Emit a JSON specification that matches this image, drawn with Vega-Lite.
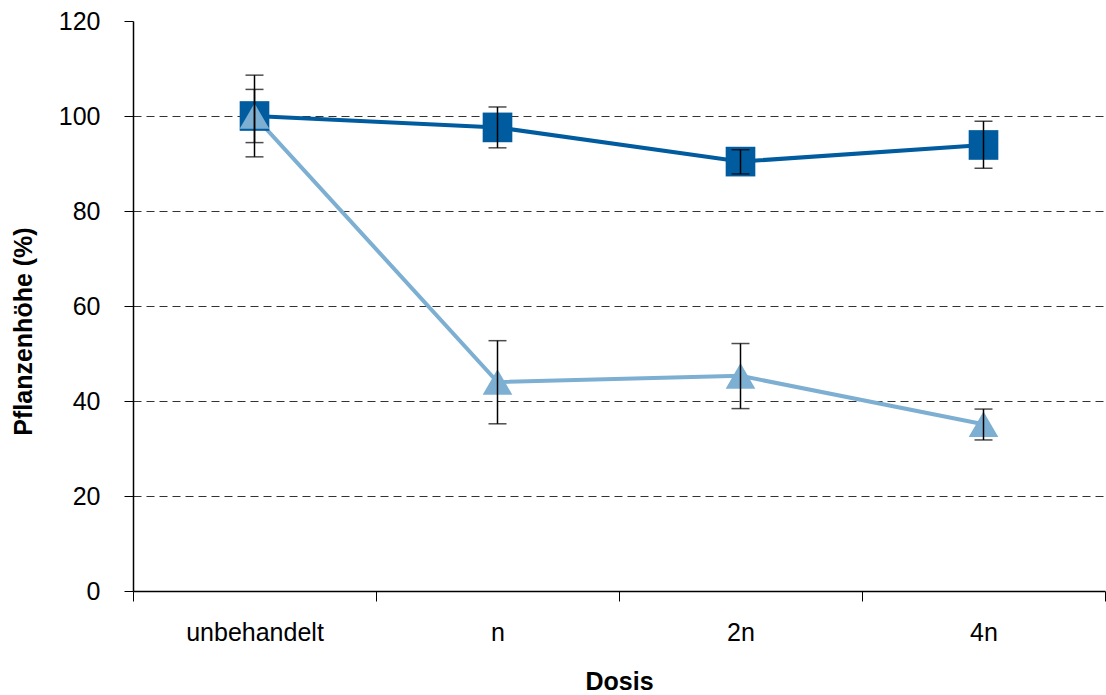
{
  "$schema": "https://vega.github.io/schema/vega-lite/v6.json",
  "width": 972,
  "height": 570,
  "autosize": {"type": "none"},
  "padding": {"left": 133, "top": 21, "right": 1, "bottom": 104},
  "background": "white",
  "config": {"view": {"stroke": null}, "font": "Liberation Sans"},
  "data": {
    "values": [
      {"dosis": "unbehandelt", "serie": "A", "wert": 100.0, "lo": 91.4, "hi": 108.6},
      {"dosis": "n", "serie": "A", "wert": 97.6, "lo": 93.3, "hi": 101.9},
      {"dosis": "2n", "serie": "A", "wert": 90.4, "lo": 87.8, "hi": 92.9},
      {"dosis": "4n", "serie": "A", "wert": 93.9, "lo": 89.0, "hi": 98.9},
      {"dosis": "unbehandelt", "serie": "B", "wert": 100.0, "lo": 94.4, "hi": 105.6},
      {"dosis": "n", "serie": "B", "wert": 44.0, "lo": 35.2, "hi": 52.7},
      {"dosis": "2n", "serie": "B", "wert": 45.3, "lo": 38.4, "hi": 52.1},
      {"dosis": "4n", "serie": "B", "wert": 35.1, "lo": 31.8, "hi": 38.3}
    ]
  },
  "encoding": {
    "x": {
      "field": "dosis",
      "type": "nominal",
      "sort": ["unbehandelt", "n", "2n", "4n"],
      "bandPosition": 0.5,
      "scale": {"type": "band", "paddingInner": 0, "paddingOuter": 0},
      "axis": {
        "title": "Dosis",
        "titleFont": "Liberation Sans",
        "titleFontSize": 25,
        "titleFontWeight": "bold",
        "titleColor": "black",
        "titleY": 90,
        "titleBaseline": "middle",
        "labelAngle": 0,
        "labelFont": "Liberation Sans",
        "labelFontSize": 25,
        "labelColor": "black",
        "labelPadding": 19,
        "tickBand": "extent",
        "tickSize": 10,
        "tickColor": "black",
        "tickWidth": 1,
        "domainColor": "black",
        "domainWidth": 1.5,
        "grid": false
      }
    }
  },
  "layer": [
    {
      "mark": {"type": "line", "strokeWidth": 4},
      "encoding": {
        "y": {
          "field": "wert",
          "type": "quantitative",
          "scale": {"domain": [0, 120], "nice": false},
          "axis": {
            "title": "Pflanzenhöhe (%)",
            "titleFont": "Liberation Sans",
            "titleFontSize": 25,
            "titleFontWeight": "bold",
            "titleColor": "black",
            "titleX": -109.5,
            "titleY": 310,
            "titleAngle": 270,
            "titleAlign": "center",
            "titleBaseline": "middle",
            "values": [0, 20, 40, 60, 80, 100, 120],
            "labelFont": "Liberation Sans",
            "labelFontSize": 25,
            "labelColor": "black",
            "labelPadding": 24,
            "tickSize": 9,
            "tickColor": "black",
            "tickWidth": 1,
            "domainColor": "black",
            "domainWidth": 1.5,
            "grid": true,
            "gridColor": "#333333",
            "gridDash": [8, 5],
            "gridWidth": 1.2,
            "gridOpacity": {"condition": {"test": "datum.value >= 120 || datum.value <= 0", "value": 0}, "value": 1}
          }
        },
        "color": {
          "field": "serie",
          "type": "nominal",
          "scale": {"domain": ["A", "B"], "range": ["#005C9E", "#7DAFD2"]},
          "legend": null
        }
      }
    },
    {
      "mark": {"type": "point", "filled": true, "opacity": 1, "size": 880},
      "encoding": {
        "y": {"field": "wert", "type": "quantitative"},
        "color": {"field": "serie", "type": "nominal", "legend": null},
        "shape": {
          "field": "serie",
          "type": "nominal",
          "scale": {"domain": ["A", "B"], "range": ["square", "triangle-up"]},
          "legend": null
        }
      }
    },
    {
      "mark": {"type": "rule", "color": "black", "strokeWidth": 1.5},
      "encoding": {
        "y": {"field": "lo", "type": "quantitative"},
        "y2": {"field": "hi"}
      }
    },
    {
      "mark": {"type": "tick", "color": "black", "size": 18, "thickness": 1.5, "orient": "horizontal"},
      "encoding": {
        "y": {"field": "lo", "type": "quantitative"}
      }
    },
    {
      "mark": {"type": "tick", "color": "black", "size": 18, "thickness": 1.5, "orient": "horizontal"},
      "encoding": {
        "y": {"field": "hi", "type": "quantitative"}
      }
    }
  ]
}
